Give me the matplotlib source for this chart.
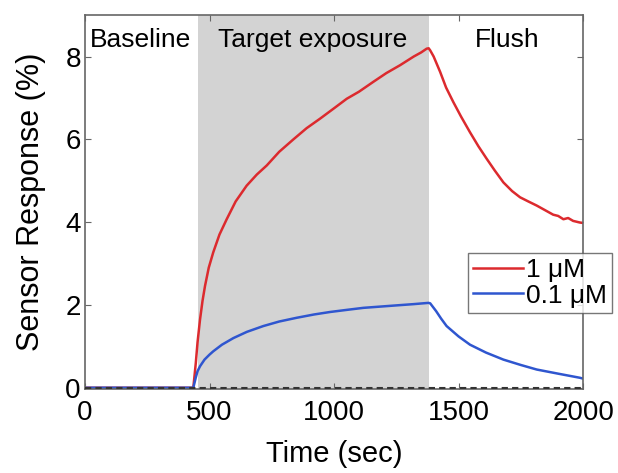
import matplotlib.pyplot as plt
import numpy as np

plt.rcParams['font.family'] = ['Liberation Sans', 'DejaVu Sans']

# phases (sec)
baseline_end = 455
exposure_end = 1380

# 1 uM trace
t_red = [0, 100, 200, 300, 400, 435, 445, 452, 462, 472, 482, 497, 515, 540,
         569, 605, 649, 690, 730, 780, 837, 890, 944, 1000, 1051, 1100, 1158,
         1210, 1265, 1320, 1350, 1372, 1380, 1386, 1400, 1426, 1450, 1479,
         1510, 1546, 1580, 1613, 1645, 1680, 1715, 1747, 1780, 1814, 1850,
         1880, 1900, 1921, 1940, 1960, 1988, 2000]
v_red = [0, 0, 0, 0, 0, 0, 0.6, 1.1, 1.65, 2.1, 2.46, 2.9, 3.27, 3.7,
         4.07, 4.5, 4.88, 5.15, 5.37, 5.7, 6.0, 6.27, 6.5, 6.75, 6.98, 7.15,
         7.39, 7.6, 7.79, 8.0, 8.1, 8.19, 8.2, 8.15, 8.0, 7.63, 7.25, 6.9,
         6.55, 6.17, 5.83, 5.53, 5.25, 4.96, 4.75, 4.6, 4.5, 4.4, 4.28,
         4.18, 4.15, 4.07, 4.1, 4.03, 3.99, 3.98]

# 0.1 uM trace
t_blue = [0, 100, 200, 300, 400, 435, 445, 452, 462, 480, 500, 515, 550, 596,
          650, 716, 780, 850, 920, 984, 1050, 1118, 1185, 1252, 1320, 1379,
          1386, 1410, 1430, 1452, 1500, 1546, 1610, 1680, 1750, 1814, 1900,
          1988, 2000]
v_blue = [0, 0, 0, 0, 0, 0, 0.25, 0.4, 0.52, 0.68, 0.8, 0.88, 1.04, 1.2,
          1.35, 1.49, 1.6, 1.69, 1.77, 1.83, 1.88, 1.93, 1.96, 1.99, 2.02, 2.05,
          2.04, 1.85, 1.67, 1.49, 1.24, 1.04, 0.85, 0.68, 0.55, 0.44, 0.34,
          0.24, 0.22]

fig = plt.figure(figsize=(6.18, 4.73), dpi=100)
ax = fig.add_axes([0.1375, 0.1776, 0.806, 0.7904])

ax.axvspan(baseline_end, exposure_end, color='#d3d3d3', lw=0, zorder=0)
ax.axhline(0, color='#333333', lw=1.5, ls=(0, (3, 2)), zorder=3)

ax.plot(t_red, v_red, color='#dc2a2e', lw=1.8, label='1 μM', zorder=2)
ax.plot(t_blue, v_blue, color='#2f56cf', lw=1.8, label='0.1 μM', zorder=2)

ax.text(222, 8.4, 'Baseline', ha='center', va='center', fontsize=19)
ax.text(915, 8.4, 'Target exposure', ha='center', va='center', fontsize=19)
ax.text(1695, 8.4, 'Flush', ha='center', va='center', fontsize=19)

ax.set_xlim(0, 2000)
ax.set_ylim(-0.03, 9)
ax.set_xticks([0, 500, 1000, 1500, 2000])
ax.set_yticks([0, 2, 4, 6, 8])
ax.tick_params(direction='in', top=True, right=True, labelsize=20,
               length=4, color='#666666')
ax.tick_params(axis='x', pad=8)
ax.tick_params(axis='y', pad=3)
for s in ax.spines.values():
    s.set_color('#666666')
    s.set_linewidth(1.2)

ax.set_xlabel('Time (sec)', fontsize=21, labelpad=10)
ax.set_ylabel('Sensor Response (%)', fontsize=22, labelpad=14)

leg = ax.legend(loc='upper right', bbox_to_anchor=(0.99, 0.465),
                bbox_transform=fig.transFigure, fontsize=19, frameon=True,
                fancybox=False, handlelength=1.9, handletextpad=0.1,
                borderpad=0.2, labelspacing=0.05, borderaxespad=0)
leg.get_frame().set_edgecolor('#555555')
leg.get_frame().set_linewidth(1.0)

fig.savefig('out.png', dpi=100)
